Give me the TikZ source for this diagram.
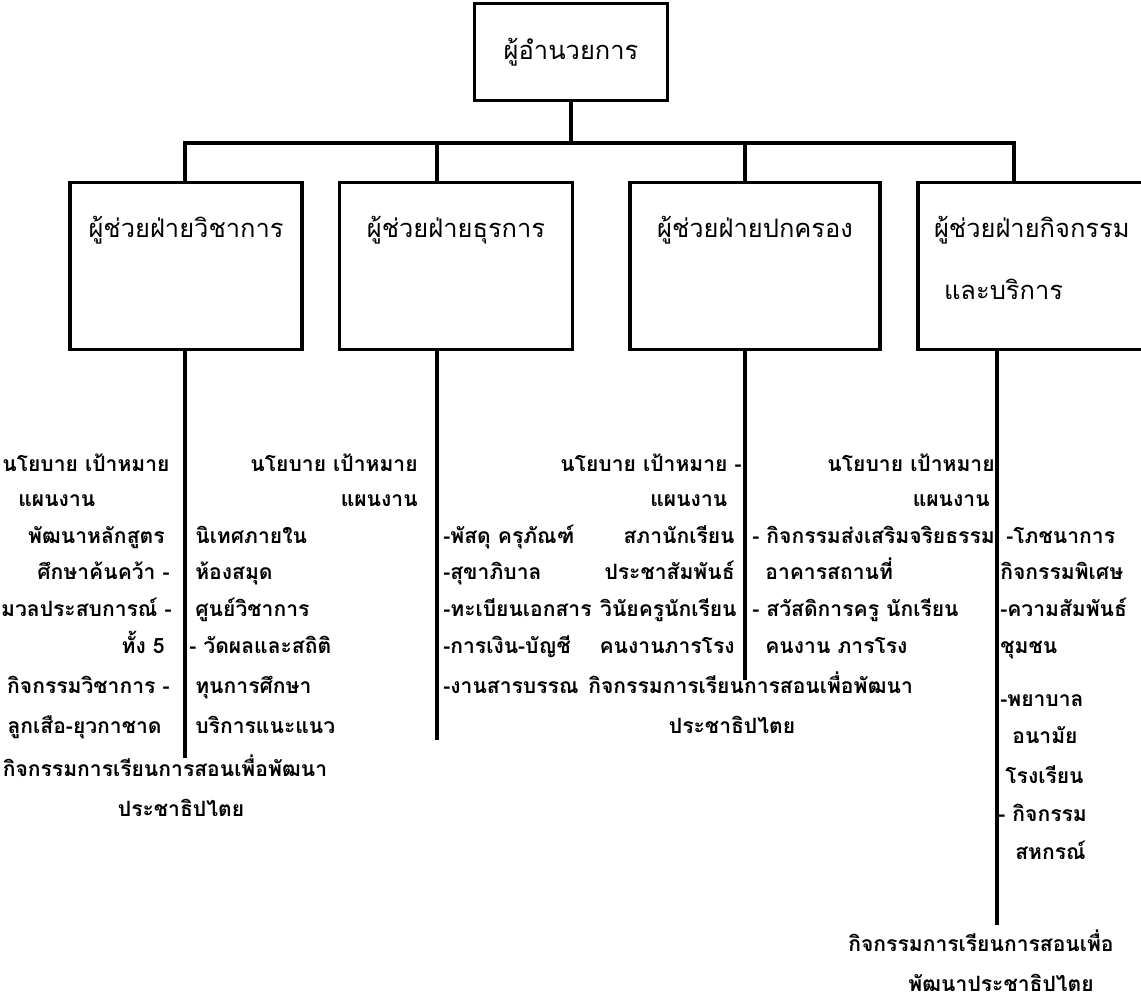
\documentclass[tikz,border=0pt]{standalone}
\usepackage{fontspec}
\newfontfamily\thaifont[Script=Thai]{Loma}

\begin{document}
\begin{tikzpicture}[x=0.02cm,y=-0.02cm,
    box/.style={draw=black,line width=2pt,inner sep=0pt,font=\thaifont\fontsize{14.5}{17}\selectfont},
    item/.style={inner sep=0pt,text height=10pt,text depth=3pt,font=\thaifont\bfseries\fontsize{12}{14}\selectfont},
    link/.style={line width=2pt}]
    \useasboundingbox (0,0) rectangle (1141,1001);
    \clip (0,0) rectangle (1141,1001);

    \node[box,minimum width=193*0.02cm,minimum height=97*0.02cm] (dir) at (571,52) {ผู้อำนวยการ};
    \node[box,minimum width=232*0.02cm,text height=1.1cm,text depth=2.24cm] (aca) at (186,266) {ผู้ช่วยฝ่ายวิชาการ};
    \node[box,minimum width=233*0.02cm,text height=1.1cm,text depth=2.24cm] (gen) at (456,266) {ผู้ช่วยฝ่ายธุรการ};
    \node[box,minimum width=250*0.02cm,text height=1.1cm,text depth=2.24cm] (gov) at (755,266) {ผู้ช่วยฝ่ายปกครอง};
    \node[box,minimum width=232*0.02cm,text height=1.1cm,text depth=2.24cm] (act) at (1034,266)
        {\parbox[t]{4cm}{\raggedright ผู้ช่วยฝ่ายกิจกรรม\\[18pt]\hspace*{0.2cm}และบริการ}};

    \coordinate (d1) at (185,143);
    \coordinate (d2) at (437,143);
    \coordinate (d3) at (745,143);
    \coordinate (d4) at (1014,143);
    \coordinate (e1) at (185,758);
    \coordinate (e2) at (437,740);
    \coordinate (e3) at (745,680);
    \coordinate (e4) at (997,925);

    \draw[link]
        (dir) -- (dir |- d1)
        (d1 |- aca.north) -- (d1) -- (d4) -- (d4 |- act.north)
        (d2) -- (d2 |- gen.north)
        (d3) -- (d3 |- gov.north)
        (e1 |- aca.south) -- (e1)
        (e2 |- gen.south) -- (e2)
        (e3 |- gov.south) -- (e3)
        (e4 |- act.south) -- (e4);

    \node[item,anchor=west] (L1-1) at (2,465) {นโยบาย เป้าหมาย};
    \node[item,anchor=west] (L1-2) at (18,500) {แผนงาน};
    \node[item,anchor=east] (L1-3) at (165,537) {พัฒนาหลักสูตร};
    \node[item,anchor=east] (L1-4) at (170,573) {ศึกษาค้นคว้า -};
    \node[item,anchor=east] (L1-5) at (172,610) {มวลประสบการณ์ -};
    \node[item,anchor=east] (L1-6) at (165,647) {ทั้ง 5};
    \node[item,anchor=east] (L1-7) at (170,687) {กิจกรรมวิชาการ -};
    \node[item,anchor=east] (L1-8) at (162,727) {ลูกเสือ-ยุวกาชาด};
    \node[item] (C1-1) at (165,770) {กิจกรรมการเรียนการสอนเพื่อพัฒนา};
    \node[item] (C1-2) at (181,810) {ประชาธิปไตย};

    \node[item,anchor=west] (R1-1) at (195,537) {นิเทศภายใน};
    \node[item,anchor=west] (R1-2) at (195,573) {ห้องสมุด};
    \node[item,anchor=west] (R1-3) at (195,610) {ศูนย์วิชาการ};
    \node[item,anchor=west] (R1-4) at (189,647) {- วัดผลและสถิติ};
    \node[item,anchor=west] (R1-5) at (195,687) {ทุนการศึกษา};
    \node[item,anchor=west] (R1-6) at (195,727) {บริการแนะแนว};

    \node[item,anchor=east] (L2-1) at (418,465) {นโยบาย เป้าหมาย};
    \node[item,anchor=east] (L2-2) at (418,500) {แผนงาน};

    \node[item,anchor=west] (R2-1) at (443,537) {-พัสดุ ครุภัณฑ์};
    \node[item,anchor=west] (R2-2) at (443,573) {-สุขาภิบาล};
    \node[item,anchor=west] (R2-3) at (443,610) {-ทะเบียนเอกสาร};
    \node[item,anchor=west] (R2-4) at (443,647) {-การเงิน-บัญชี};
    \node[item,anchor=west] (R2-5) at (443,687) {-งานสารบรรณ};

    \node[item,anchor=east] (L3-1) at (742,465) {นโยบาย เป้าหมาย -};
    \node[item,anchor=west] (L3-2) at (650,500) {แผนงาน};
    \node[item,anchor=east] (L3-3) at (735,537) {สภานักเรียน};
    \node[item,anchor=east] (L3-4) at (735,573) {ประชาสัมพันธ์};
    \node[item,anchor=east] (L3-5) at (737,610) {วินัยครูนักเรียน};
    \node[item,anchor=east] (L3-6) at (735,647) {คนงานภารโรง};
    \node[item,anchor=west] (C3-1) at (588,687) {กิจกรรมการเรียนการสอนเพื่อพัฒนา};
    \node[item] (C3-2) at (732,727) {ประชาธิปไตย};

    \node[item,anchor=west] (R3-1) at (752,537) {- กิจกรรมส่งเสริมจริยธรรม};
    \node[item,anchor=west] (R3-2) at (765,573) {อาคารสถานที่};
    \node[item,anchor=west] (R3-3) at (752,610) {- สวัสดิการครู นักเรียน};
    \node[item,anchor=west] (R3-4) at (765,647) {คนงาน ภารโรง};

    \node[item,anchor=east] (L4-1) at (995,465) {นโยบาย เป้าหมาย};
    \node[item,anchor=east] (L4-2) at (990,500) {แผนงาน};

    \node[item,anchor=west] (R4-1) at (1006,537) {-โภชนาการ};
    \node[item,anchor=west] (R4-2) at (1000,573) {กิจกรรมพิเศษ};
    \node[item,anchor=west] (R4-3) at (1000,610) {-ความสัมพันธ์};
    \node[item,anchor=west] (R4-4) at (1000,647) {ชุมชน};
    \node[item,anchor=west] (R4-5) at (1000,700) {-พยาบาล};
    \node[item,anchor=west] (R4-6) at (1012,737) {อนามัย};
    \node[item,anchor=west] (R4-7) at (1005,777) {โรงเรียน};
    \node[item,anchor=west] (R4-8) at (998,815) {- กิจกรรม};
    \node[item,anchor=west] (R4-9) at (1015,853) {สหกรณ์};
    \node[item] (C4-1) at (981,945) {กิจกรรมการเรียนการสอนเพื่อ};
    \node[item] (C4-2) at (1001,985) {พัฒนาประชาธิปไตย};
\end{tikzpicture}
\end{document}
